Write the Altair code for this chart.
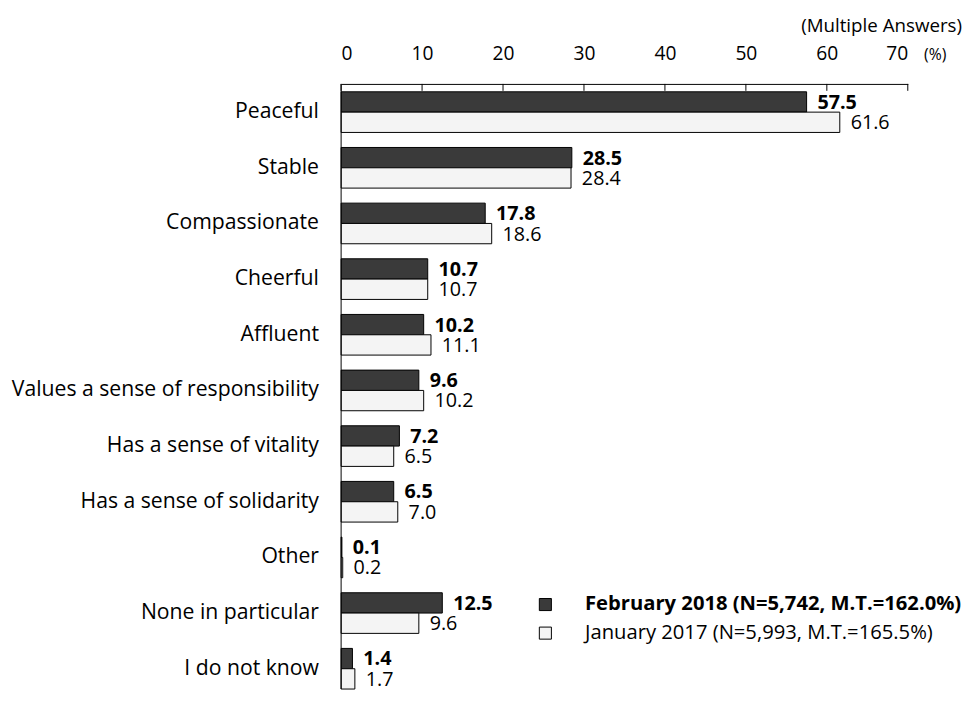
import altair as alt
import pandas as pd

categories = ["Peaceful", "Stable", "Compassionate", "Cheerful", "Affluent",
              "Values a sense of responsibility", "Has a sense of vitality",
              "Has a sense of solidarity", "Other", "None in particular", "I do not know"]
feb_vals = [57.5, 28.5, 17.8, 10.7, 10.2, 9.6, 7.2, 6.5, 0.1, 12.5, 1.4]
jan_vals = [61.6, 28.4, 18.6, 10.7, 11.1, 10.2, 6.5, 7.0, 0.2, 9.6, 1.7]
series = ["February 2018 (N=5,742, M.T.=162.0%)", "January 2017 (N=5,993, M.T.=165.5%)"]
tick_values = [0, 10, 20, 30, 40, 50, 60, 70]

rows = []
for c, f, j in zip(categories, feb_vals, jan_vals):
    rows.append({"category": c, "series": series[0], "value": f})
    rows.append({"category": c, "series": series[1], "value": j})
df = pd.DataFrame(rows)
ticks_df = pd.DataFrame({"t": tick_values})
zero_df = pd.DataFrame({"t": [0]})

FONT = "Open Sans"
W, H = 575, 606
OFF = 8

xscale = alt.Scale(domain=[0, 70], nice=False)
yscale = alt.Scale(domain=categories, paddingInner=0.27, paddingOuter=0)
yoff_scale = alt.Scale(domain=series, paddingInner=0, paddingOuter=0)

color = alt.Color(
    "series:N",
    scale=alt.Scale(domain=series, range=["#3a3a3a", "#f4f4f4"]),
    legend=alt.Legend(
        title=None, orient="none", legendX=197, legendY=510,
        symbolType="square", symbolSize=150, symbolStrokeColor="black",
        symbolStrokeWidth=1, labelFontSize=20.5, labelFont=FONT, labelColor="black",
        labelOffset=30, rowPadding=8, labelLimit=600,
        labelFontWeight=alt.ExprRef("datum.index == 0 ? 'bold' : 'normal'"),
    ),
)

base = alt.Chart(df)

bars = base.mark_bar(stroke="black", strokeWidth=1).encode(
    x=alt.X("value:Q", scale=xscale,
            axis=alt.Axis(orient="top", values=tick_values, offset=OFF, ticks=False,
                          grid=False, domainColor="black", domainWidth=1,
                          labelFontSize=19.5, labelFont=FONT, labelColor="black",
                          labelPadding=21, title="(%)", titleFontSize=16,
                          titleFont=FONT, titleFontWeight="normal", titleColor="black",
                          titleX=591, titleY=-30, titleAlign="left",
                          titleBaseline="middle", titleAngle=0)),
    y=alt.Y("category:N", scale=yscale, sort=categories,
            axis=alt.Axis(title=None, ticks=False, domain=False, labelFontSize=21.5,
                          labelFont=FONT, labelColor="black", labelPadding=23,
                          labelLimit=400)),
    yOffset=alt.YOffset("series:N", scale=yoff_scale, sort=series),
    color=color,
)

def value_text(idx, weight):
    return base.transform_filter(alt.datum.series == series[idx]).mark_text(
        align="left", baseline="middle", dx=11, dy=1, fontSize=20, font=FONT,
        fontWeight=weight, color="black").encode(
        x=alt.X("value:Q", scale=xscale),
        y=alt.Y("category:N", scale=yscale, sort=categories),
        yOffset=alt.YOffset("series:N", scale=yoff_scale, sort=series),
        text=alt.Text("value:Q", format=".1f"),
    )

text_feb = value_text(0, "bold")
text_jan = value_text(1, "normal")

tick_rules = alt.Chart(ticks_df).mark_rule(color="black", strokeWidth=1).encode(
    x=alt.X("t:Q", scale=xscale),
    y=alt.value(-OFF), y2=alt.value(-1),
)
yline = alt.Chart(zero_df).mark_rule(color="black", strokeWidth=1).encode(
    x=alt.X("t:Q", scale=xscale),
    y=alt.value(-OFF), y2=alt.value(H),
)

chart = alt.layer(bars, text_feb, text_jan, tick_rules, yline).properties(
    width=W, height=H,
    padding={"left": 3, "top": 4, "right": 0, "bottom": 0},
    title=alt.Title("(Multiple Answers)", anchor="end", frame="bounds",
                    fontSize=19, font=FONT, fontWeight="normal", color="black",
                    offset=8),
).configure(background="white").configure_view(stroke=None)

chart.save("out.html", embed_options={"renderer": "svg", "actions": False})
